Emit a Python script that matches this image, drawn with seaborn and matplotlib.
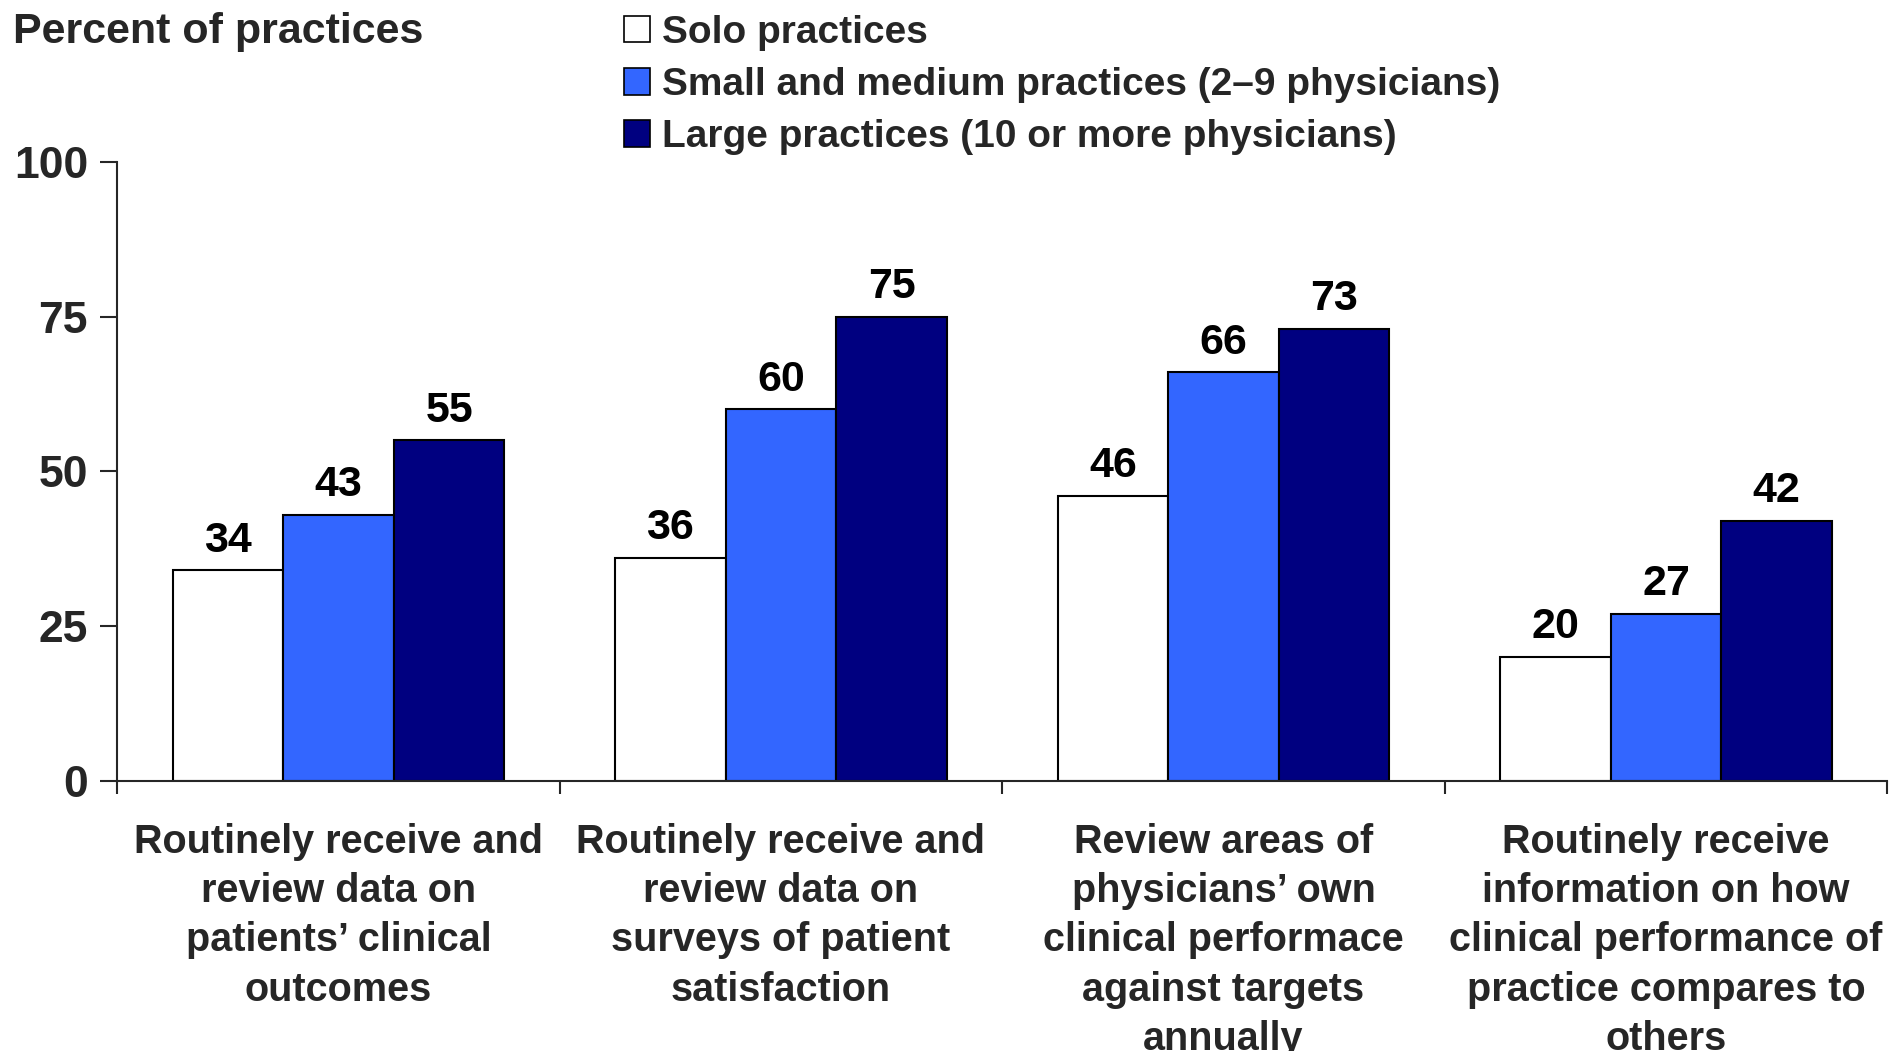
import pandas as pd
import matplotlib.pyplot as plt
import seaborn as sns
from matplotlib.patches import Patch
from matplotlib.ticker import FixedLocator

# data
measures = [
    "Routinely receive and\nreview data on\npatients\u2019 clinical\noutcomes",
    "Routinely receive and\nreview data on\nsurveys of patient\nsatisfaction",
    "Review areas of\nphysicians\u2019 own\nclinical performace\nagainst targets\nannually",
    "Routinely receive\ninformation on how\nclinical performance of\npractice compares to\nothers",
]
groups = [
    "Solo practices",
    "Small and medium practices (2\u20139 physicians)",
    "Large practices (10 or more physicians)",
]
solo = [34, 36, 46, 20]
small_medium = [43, 60, 66, 27]
large = [55, 75, 73, 42]
colors = ["#FFFFFF", "#3366FF", "#000080"]


def main():
    rows = []
    for g, vals in zip(groups, [solo, small_medium, large]):
        for m, v in zip(measures, vals):
            rows.append({"measure": m, "group": g, "percent": v})
    df = pd.DataFrame(rows)

    sns.set_style("ticks")
    plt.rcParams["font.family"] = ["Liberation Sans", "DejaVu Sans"]

    fig = plt.figure(figsize=(18.91, 10.51), dpi=100)
    ax = fig.add_axes([0.062, 0.257, 0.936, 0.589])

    sns.barplot(data=df, x="measure", y="percent", hue="group",
                hue_order=groups, order=measures, palette=colors,
                width=0.75, saturation=1, edgecolor="black", linewidth=1.5,
                ax=ax, legend=False)

    for cont in ax.containers:
        ax.bar_label(cont, fmt="%d", padding=7, fontsize=31,
                     fontweight="bold", color="black")

    ax.set_ylim(0, 100)
    ax.set_xlim(-0.5, 3.5)
    ax.set_yticks([0, 25, 50, 75, 100])
    ax.tick_params(axis="y", length=12, width=1.5, pad=9, labelsize=32)
    for t in ax.get_yticklabels():
        t.set_fontweight("bold")

    # category labels centred, tick marks at category boundaries
    ax.tick_params(axis="x", which="major", length=0, pad=30)
    ax.xaxis.set_minor_locator(FixedLocator([-0.5, 0.5, 1.5, 2.5, 3.5]))
    ax.tick_params(axis="x", which="minor", length=9, width=1.5, direction="out")
    ax.set_xticks(range(len(measures)))
    ax.set_xticklabels(measures, fontweight="bold", fontsize=28.5,
                       linespacing=1.38)
    ax.set_xlabel("")
    ax.set_ylabel("")

    sns.despine(ax=ax)
    for s in ["left", "bottom"]:
        ax.spines[s].set_linewidth(1.5)

    fig.text(0.007, 0.970, "Percent of practices",
             fontweight="bold", fontsize=31, va="center", ha="left")

    handles = [Patch(facecolor=c, edgecolor="black", linewidth=1.2) for c in colors]
    fig.legend(handles, groups, loc="upper left",
               bbox_to_anchor=(0.3215, 1.001), frameon=False,
               prop={"weight": "bold", "size": 28},
               handlelength=0.68, handleheight=0.68, handletextpad=0.3,
               labelspacing=0.42, borderaxespad=0)

    fig.savefig("out.png", dpi=100)


if __name__ == "__main__":
    main()
